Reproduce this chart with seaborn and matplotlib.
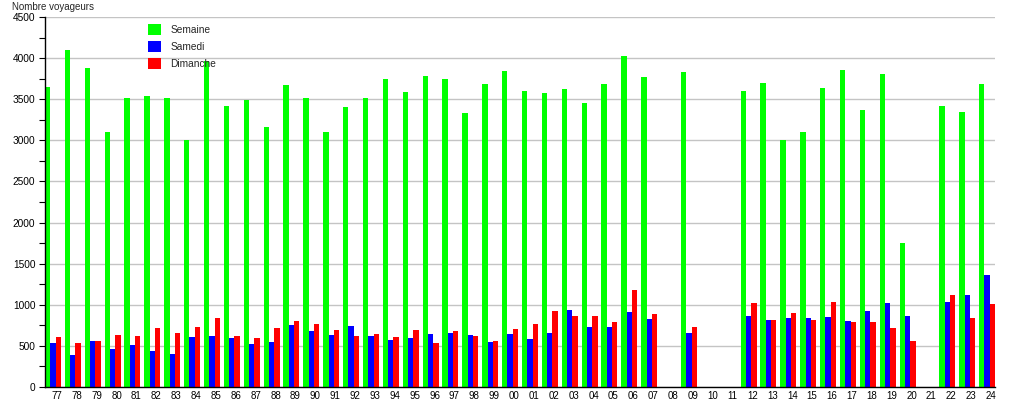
import numpy as np
import pandas as pd
import matplotlib
matplotlib.use("Agg")
import matplotlib.pyplot as plt
import seaborn as sns
from matplotlib.ticker import MultipleLocator

nan = np.nan
years = ['77', '78', '79', '80', '81', '82', '83', '84', '85', '86', '87', '88',
         '89', '90', '91', '92', '93', '94', '95', '96', '97', '98', '99',
         '00', '01', '02', '03', '04', '05', '06', '07', '08', '09', '10', '11',
         '12', '13', '14', '15', '16', '17', '18', '19', '20', '21', '22', '23', '24']

semaine = [3650, 4100, 3880, 3100, 3510, 3540, 3510, 3000, 3970, 3420, 3490, 3160,
           3670, 3520, 3100, 3410, 3510, 3750, 3590, 3780, 3740, 3330, 3680,
           3840, 3600, 3580, 3620, 3460, 3680, 4020, 3770, nan, 3830, nan, nan,
           3600, 3700, 3010, 3100, 3640, 3850, 3370, 3810, 1750, nan, 3420, 3340, 3690]

samedi = [537, 390, 561, 463, 512, 439, 402, 610, 622, 598, 524, 549,
          756, 683, 634, 744, 622, 573, 598, 646, 659, 634, 549,
          646, 585, 659, 939, 732, 732, 915, 829, nan, 659, nan, nan,
          866, 817, 841, 841, 854, 805, 927, 1024, 866, nan, 1037, 1122, 1366]

dimanche = [610, 537, 561, 634, 622, 720, 659, 732, 841, 622, 598, 720,
            805, 768, 695, 622, 646, 610, 695, 537, 683, 622, 561,
            707, 768, 927, 866, 866, 793, 1183, 890, nan, 732, nan, nan,
            1024, 817, 902, 817, 1037, 793, 793, 720, 561, nan, 1122, 841, 1012]

series_names = ['Semaine', 'Samedi', 'Dimanche']
series_colors = ['#00ff00', '#0000ff', '#ff0000']

df = pd.DataFrame({'annee': years, 'Semaine': semaine, 'Samedi': samedi, 'Dimanche': dimanche})
long = df.melt(id_vars='annee', value_vars=series_names, var_name='jour', value_name='voyageurs')

sns.set_style('white')
plt.rcParams['font.family'] = ['Liberation Sans', 'DejaVu Sans']

fig = plt.figure(figsize=(10.15, 4.0), dpi=100)
ax = fig.add_axes([45 / 1015, 13 / 400, 950 / 1015, 370 / 400])

sns.barplot(data=long, x='annee', y='voyageurs', hue='jour', order=years,
            hue_order=series_names, palette=series_colors, saturation=1,
            width=0.8, linewidth=0, errorbar=None, ax=ax)

ax.set_xlim(-0.4, len(years) - 0.6)
ax.set_ylim(0, 4500)
ax.set_xlabel('')
ax.set_ylabel('')
ax.set_xticks(np.arange(len(years)) + 0.2)
ax.set_xticklabels(years)
ax.yaxis.set_major_locator(MultipleLocator(500))
ax.yaxis.set_minor_locator(MultipleLocator(250))
ax.tick_params(axis='x', length=0, pad=3, labelsize=7, colors='black')
ax.tick_params(axis='y', which='major', length=4, width=0.8, pad=3, labelsize=7.3,
               colors='black', left=True)
ax.tick_params(axis='y', which='minor', length=4, width=0.8, left=True, colors='black')

ax.grid(axis='y', which='major', color='#c4c4c4', linewidth=1, linestyle='-')
ax.grid(axis='x', visible=False)
ax.set_axisbelow(True)
for side in ['top', 'right']:
    ax.spines[side].set_visible(False)
for side in ['left', 'bottom']:
    ax.spines[side].set_color('black')
    ax.spines[side].set_linewidth(1)

handles, labels = ax.get_legend_handles_labels()
ax.legend(handles, labels, loc='upper left', bbox_to_anchor=(0.108, 0.982),
          frameon=False, fontsize=7.3, handlelength=1.35, handleheight=1.35,
          labelspacing=0.55, handletextpad=0.9, borderpad=0, borderaxespad=0)

fig.text(12 / 1015, 1 - 2 / 400, 'Nombre voyageurs', fontsize=7, va='top', ha='left')

fig.savefig('out.png', dpi=100)
